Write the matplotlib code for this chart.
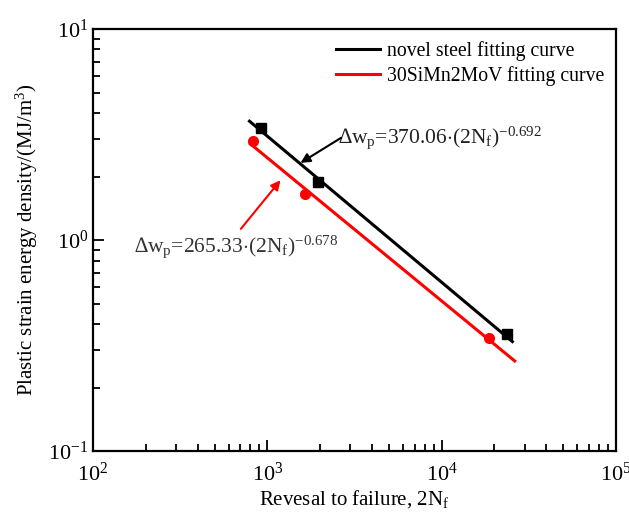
import numpy as np
import matplotlib
matplotlib.use('Agg')
import matplotlib.pyplot as plt

plt.rcParams['font.family'] = ['Liberation Serif', 'DejaVu Serif']
plt.rcParams['mathtext.fontset'] = 'custom'
plt.rcParams['mathtext.rm'] = 'Liberation Serif'
plt.rcParams['mathtext.it'] = 'Liberation Serif'
plt.rcParams['mathtext.bf'] = 'Liberation Serif:bold'

### measured points (reversals, plastic strain energy density)
novel_N = [925, 1960, 23600]
novel_W = [3.40, 1.88, 0.36]
simn_N = [830, 1650, 18600]
simn_W = [2.94, 1.65, 0.345]

### fitted power laws  dw = A*(2Nf)^b
novel_fit = (370.06, -0.692)
simn_fit = (265.33, -0.678)
novel_range = [790, 25500]
simn_range = [800, 26300]

fig = plt.figure(figsize=(6.29, 5.27), dpi=100)
ax = fig.add_axes([0.148, 0.144, 0.831, 0.801])

xn = np.logspace(np.log10(novel_range[0]), np.log10(novel_range[1]), 50)
xs = np.logspace(np.log10(simn_range[0]), np.log10(simn_range[1]), 50)
ax.plot(xn, novel_fit[0]*xn**novel_fit[1], color='black', lw=2.2, label='novel steel fitting curve')
ax.plot(xs, simn_fit[0]*xs**simn_fit[1], color='red', lw=2.2, label='30SiMn2MoV fitting curve')
ax.plot(novel_N, novel_W, 's', color='black', ms=7)
ax.plot(simn_N, simn_W, 'o', color='red', ms=7)

ax.set_xscale('log'); ax.set_yscale('log')
ax.set_xlim(1e2, 1e5); ax.set_ylim(1e-1, 1e1)
ax.tick_params(which='both', direction='in', top=False, right=False, labelsize=16, width=1.3)
ax.tick_params(which='major', length=8)
ax.tick_params(which='minor', length=5)
ax.tick_params(axis='x', pad=8)
for s in ax.spines.values(): s.set_linewidth(1.6)

ax.set_xlabel('Revesal to failure, 2N$_\\mathregular{f}$', fontsize=15, labelpad=2)
ax.set_ylabel('Plastic strain energy density/(MJ/m$^\\mathregular{3}$)', fontsize=15, labelpad=6)

leg = ax.legend(loc='upper right', fontsize=14.2, frameon=False, handlelength=2.2,
                handletextpad=0.35, labelspacing=0.25, borderaxespad=0.2)

### equation annotations
eq_black = '\u2206w$_\\mathregular{p}$=370.06$\\cdot$(2N$_\\mathregular{f}$)$^\\mathregular{-0.692}$'
eq_red = '\u2206w$_\\mathregular{p}$=265.33$\\cdot$(2N$_\\mathregular{f}$)$^\\mathregular{-0.678}$'
ax.text(2550, 3.05, eq_black, fontsize=15.5, color='#222222', ha='left', va='center')
ax.annotate('', xy=(1550, 2.32), xytext=(2650, 3.05),
            arrowprops=dict(arrowstyle='-|>', color='black', lw=1.5, mutation_scale=14, shrinkA=0, shrinkB=0))
ax.text(172, 0.93, eq_red, fontsize=15.5, color='#333333', ha='left', va='center')
ax.annotate('', xy=(1190, 1.92), xytext=(705, 1.13),
            arrowprops=dict(arrowstyle='-|>', color='red', lw=1.5, mutation_scale=14, shrinkA=0, shrinkB=0))

fig.savefig('out.png', dpi=100)
